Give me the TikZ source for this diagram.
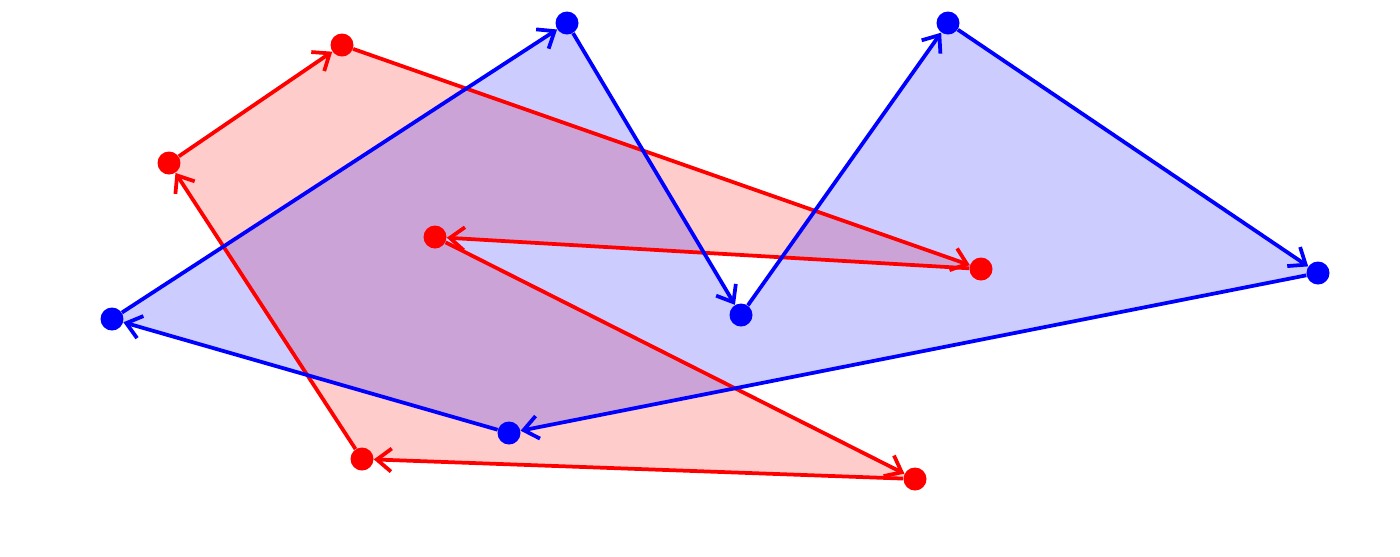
\documentclass[tikz,border=0pt]{standalone}
\usetikzlibrary{arrows.meta}
\begin{document}
\begin{tikzpicture}[x=0.02cm,y=-0.02cm,
  dotr/.style={circle,fill=red,inner sep=0pt,minimum size=0.46cm},
  dotb/.style={circle,fill=blue,inner sep=0pt,minimum size=0.46cm},
  edger/.style={draw=red,line width=0.075cm,-{Straight Barb[length=2.9mm,width=4.6mm]}},
  edgeb/.style={draw=blue,line width=0.075cm,-{Straight Barb[length=2.9mm,width=4.6mm]}}]
\useasboundingbox (0,0) rectangle (1400,556);
% coordinates
\coordinate (r1) at (342,45);
\coordinate (r2) at (981,269);
\coordinate (r3) at (435,237);
\coordinate (r4) at (915,479);
\coordinate (r5) at (362,459);
\coordinate (r6) at (169,163);
\coordinate (b1) at (567,23);
\coordinate (b2) at (741,315);
\coordinate (b3) at (948,23);
\coordinate (b4) at (1318,273);
\coordinate (b5) at (509,433);
\coordinate (b6) at (112,319);
% fills
\fill[red,fill opacity=0.2] (r1)--(r2)--(r3)--(r4)--(r5)--(r6)--cycle;
\fill[blue,fill opacity=0.2] (b1)--(b2)--(b3)--(b4)--(b5)--(b6)--cycle;
% red
\node[dotr] (R1) at (r1) {};
\node[dotr] (R2) at (r2) {};
\node[dotr] (R3) at (r3) {};
\node[dotr] (R4) at (r4) {};
\node[dotr] (R5) at (r5) {};
\node[dotr] (R6) at (r6) {};
\draw[edger] (R6)--(R1);
\draw[edger] (R1)--(R2);
\draw[edger] (R2)--(R3);
\draw[edger] (R3)--(R4);
\draw[edger] (R4)--(R5);
\draw[edger] (R5)--(R6);
% blue
\node[dotb] (B1) at (b1) {};
\node[dotb] (B2) at (b2) {};
\node[dotb] (B3) at (b3) {};
\node[dotb] (B4) at (b4) {};
\node[dotb] (B5) at (b5) {};
\node[dotb] (B6) at (b6) {};
\draw[edgeb] (B1)--(B2);
\draw[edgeb] (B2)--(B3);
\draw[edgeb] (B3)--(B4);
\draw[edgeb] (B4)--(B5);
\draw[edgeb] (B5)--(B6);
\draw[edgeb] (B6)--(B1);
\end{tikzpicture}
\end{document}
